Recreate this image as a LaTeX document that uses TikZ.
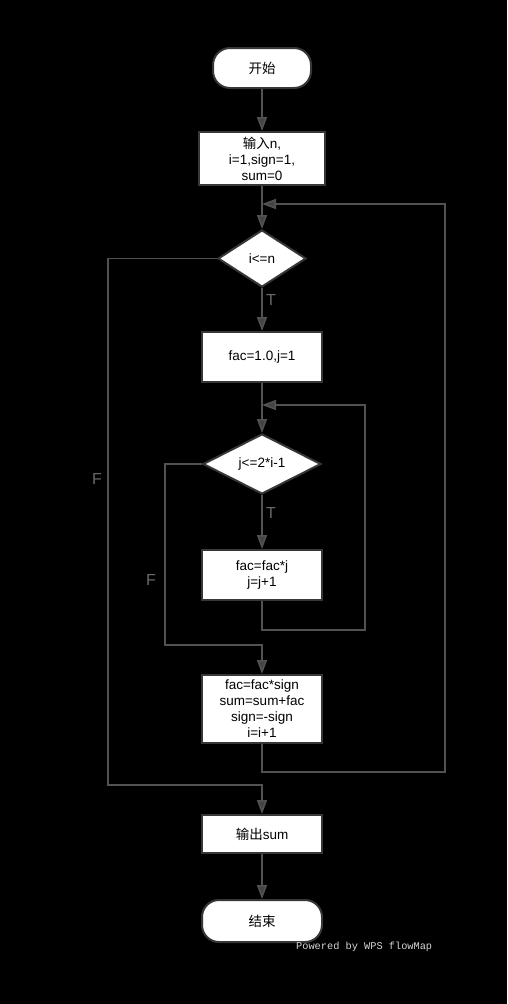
\documentclass[tikz,border=0pt]{standalone}
\usepackage{fontspec}
\setmainfont{Liberation Sans}
\newfontfamily\cjk{Noto Sans CJK SC}
\newfontfamily\wpsmono{Liberation Mono}
\usetikzlibrary{shapes.geometric, arrows.meta, positioning, calc}
\definecolor{pagebg}{RGB}{0,0,0}
\definecolor{edgegray}{RGB}{82,82,82}
\definecolor{bordergray}{RGB}{55,55,55}
\definecolor{tipgray}{RGB}{68,68,68}
\definecolor{labelgray}{RGB}{105,105,105}
\definecolor{creditgray}{RGB}{215,215,215}

\tikzset{
    startstop/.style={rectangle, rounded corners=17pt, draw=bordergray, line width=2pt, fill=white,
        minimum width=98pt, minimum height=40pt, font=\fontsize{13.5}{16}\selectfont},
    process/.style={rectangle, draw=bordergray, line width=2pt, fill=white, align=center,
        minimum width=120pt, minimum height=50pt, inner sep=2pt, font=\fontsize{13.5}{16}\selectfont},
    decision/.style={diamond, draw=bordergray, line width=2pt, fill=white, inner sep=0pt,
        minimum width=88pt, minimum height=57pt, font=\fontsize{13.5}{16}\selectfont},
    flow/.style={draw=edgegray, line width=1.6pt, -{Triangle[length=14pt, width=10pt, fill=tipgray]}},
    branchlabel/.style={text=labelgray, font=\fontsize{16}{18}\selectfont},
    credit/.style={text=creditgray, font=\wpsmono\fontsize{10.3}{12}\selectfont, inner sep=0pt}
}

\begin{document}
\begin{tikzpicture}[x=1pt, y=-1pt]
    % Page
    \fill[pagebg] (0,0) rectangle (507,1004);

    % Steps
    \node[startstop] (start) at (262,68) {{\cjk 开始}};
    \node[process, minimum width=126pt, minimum height=53pt] (input) at (262,158.5) {{\cjk 输入}n,\\i=1,sign=1,\\sum=0};
    \node[decision] (outer) at (262,258.5) {i<=n};
    \node[process] (init) at (262,357) {fac=1.0,j=1};
    \node[decision, minimum width=118pt, minimum height=60pt] (inner) at (262,464) {j<=2*i-1};
    \node[process] (mult) at (262,575) {fac=fac*j\\j=j+1};
    \node[process, minimum height=68pt] (accum) at (262,709) {fac=fac*sign\\sum=sum+fac\\sign=-sign\\i=i+1};
    \node[process, minimum height=38pt] (output) at (262,834) {{\cjk 输出}sum};
    \node[startstop, minimum width=120pt, minimum height=42pt] (stop) at (262,921) {{\cjk 结束}};

    % Corner points of the loops
    \coordinate (outerin) at (262,204);
    \coordinate (innerin) at (262,405);
    \coordinate (loopR) at (445,772);
    \coordinate (loopr) at (365,630);
    \coordinate (exitL) at (108,785);
    \coordinate (skipL) at (165,645);

    % Main flow
    \draw[flow] (start) -- (input);
    \draw[flow] (input) -- (outer);
    \draw[flow] (outer) -- (init);
    \draw[flow] (init) -- (inner);
    \draw[flow] (inner) -- (mult);
    \draw[flow] (output) -- (stop);

    % Loops
    \draw[flow] (mult.south) |- (loopr) |- (innerin);
    \draw[flow] (accum.south) |- (loopR) |- (outerin);
    \draw[flow] (inner.west) -| (skipL) -| (accum.north);
    \draw[flow] (outer.west) -| (exitL) -| (output.north);

    % Branch labels
    \node[branchlabel] (outerT) at (271,300) {T};
    \node[branchlabel] (innerT) at (271,513) {T};
    \node[branchlabel] (outerF) at (97,479) {F};
    \node[branchlabel] (innerF) at (151,580) {F};

    \node[credit, anchor=west] (wps) at (296,947) {Powered by WPS flowMap};
\end{tikzpicture}
\end{document}
